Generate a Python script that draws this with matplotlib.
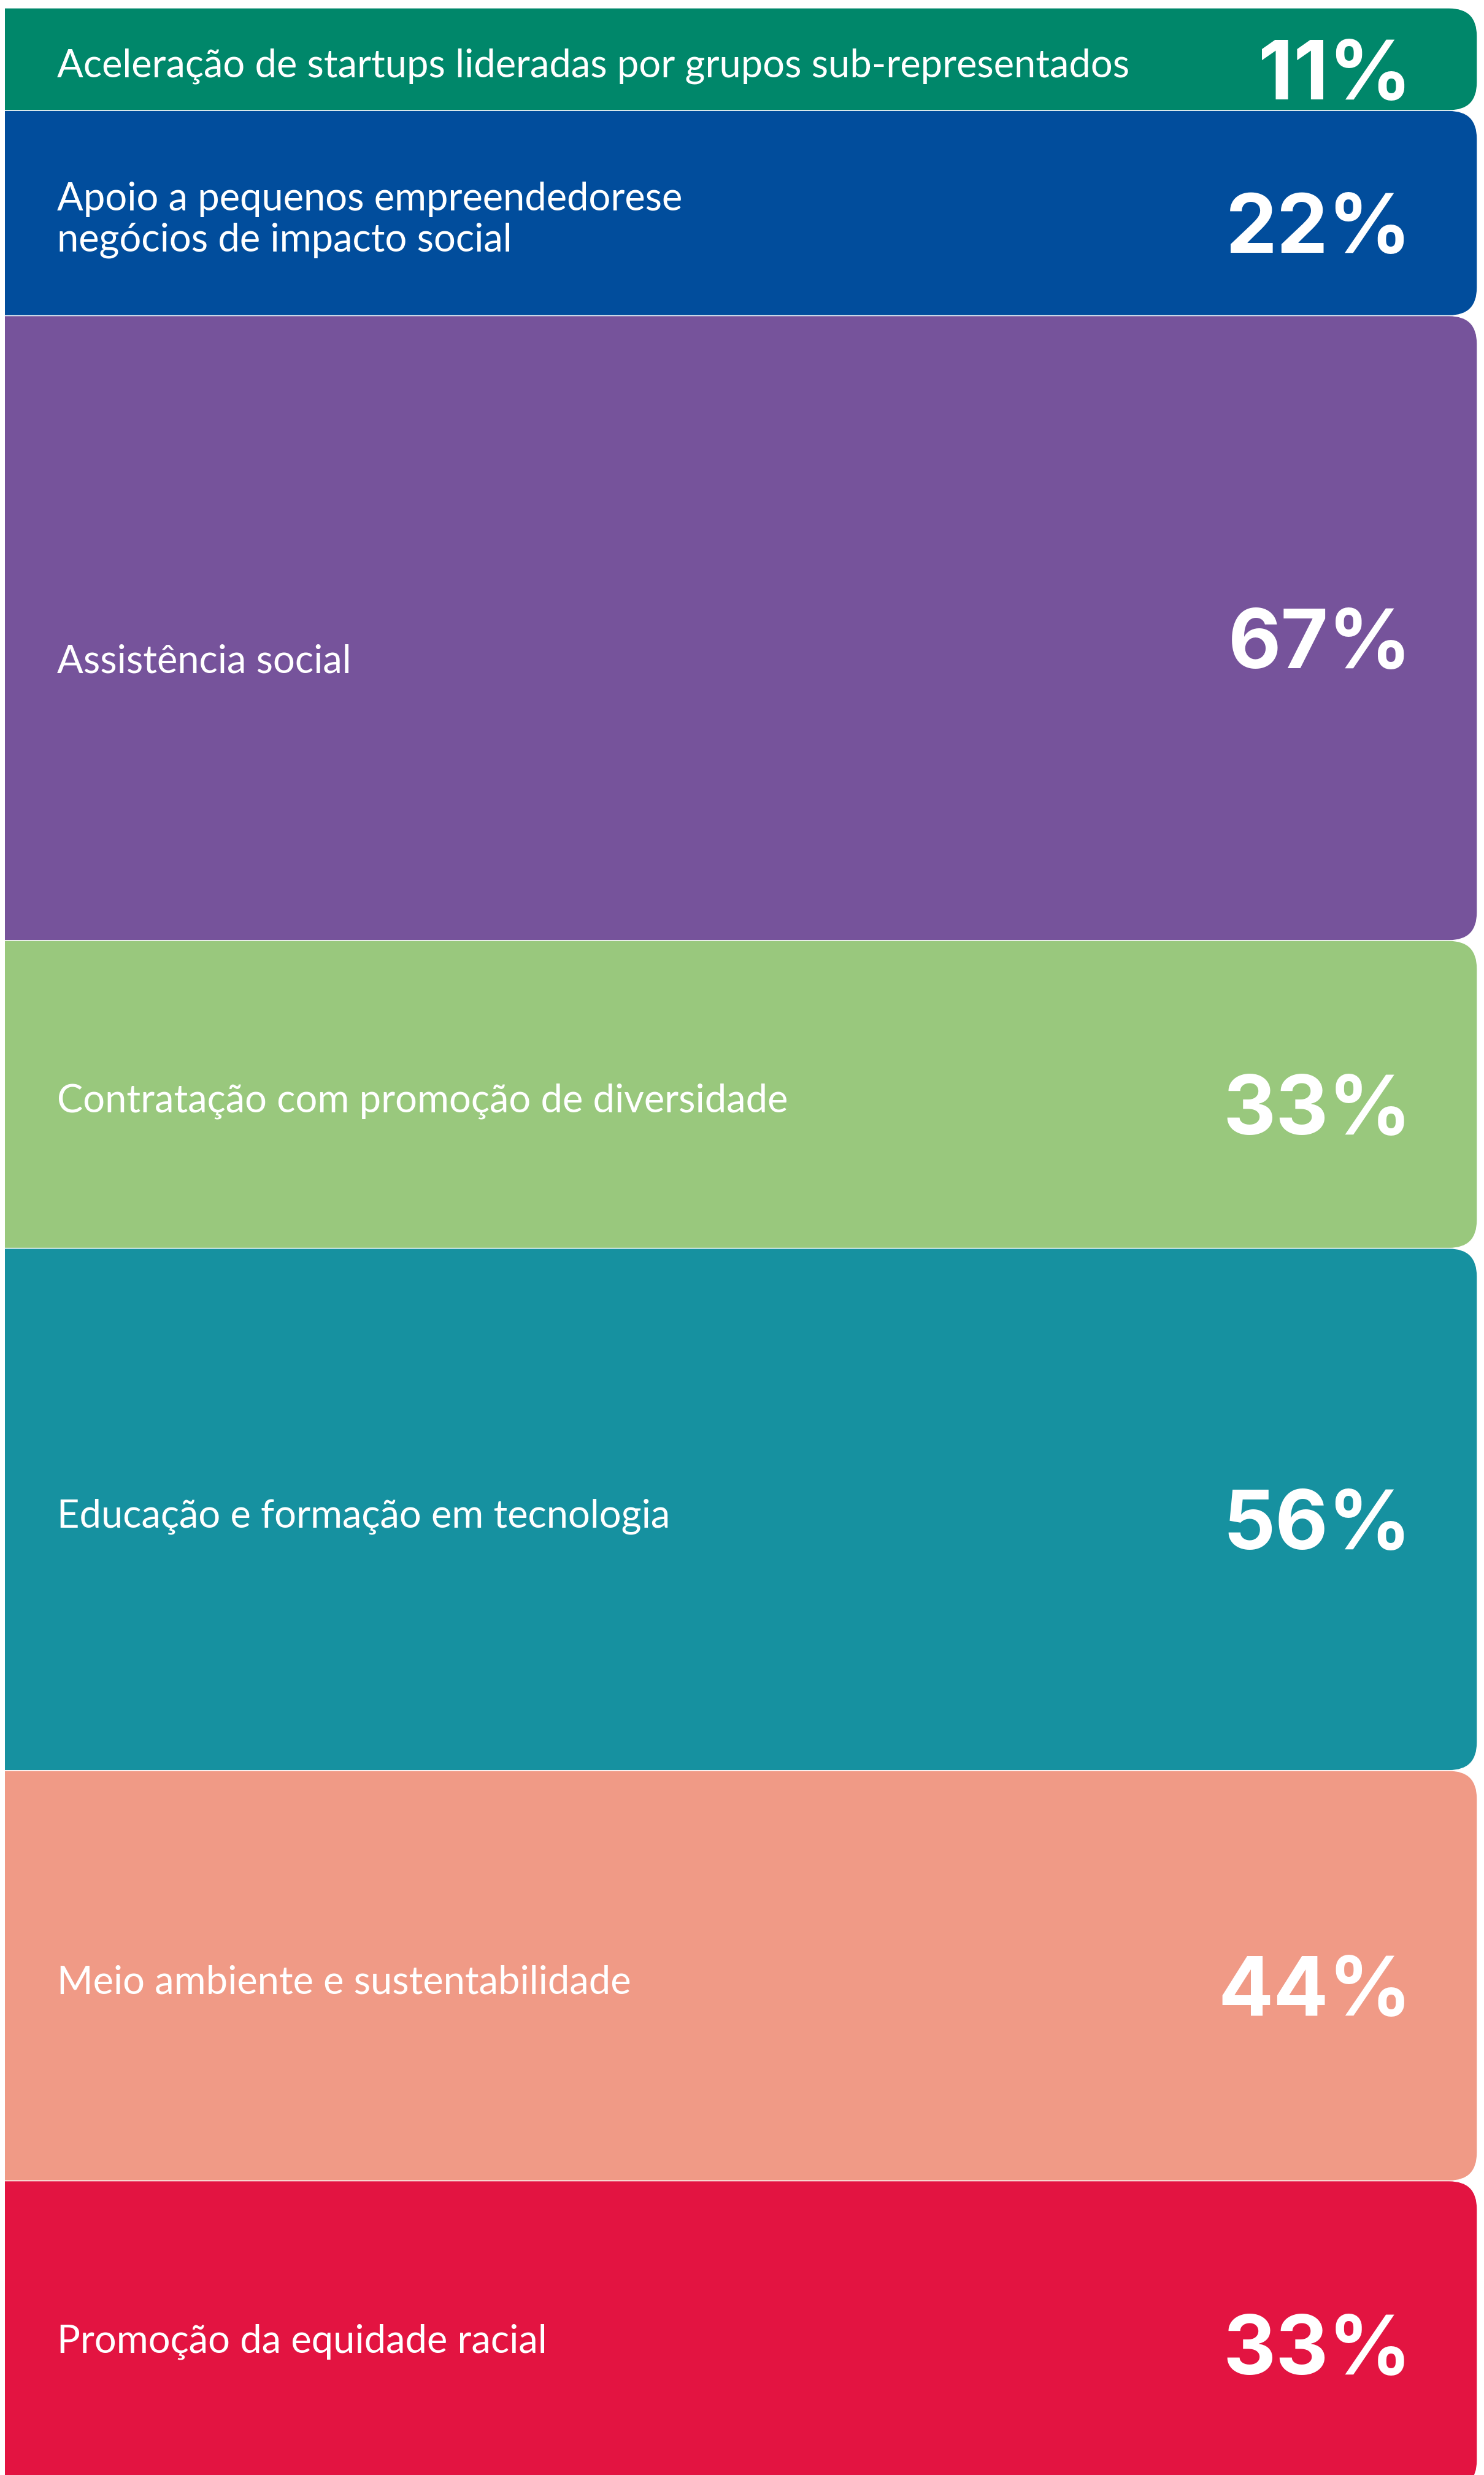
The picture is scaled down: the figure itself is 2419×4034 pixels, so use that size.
import numpy as np
import matplotlib.pyplot as plt
from matplotlib.patches import FancyBboxPatch

# data
categories = [
    'Aceleração de startups lideradas por grupos sub-representados',
    'Apoio a pequenos empreendedorese\nnegócios de impacto social',
    'Assistência social',
    'Contratação com promoção de diversidade',
    'Educação e formação em tecnologia',
    'Meio ambiente e sustentabilidade',
    'Promoção da equidade racial',
]
values = [11, 22, 67, 33, 56, 44, 33]
value_labels = ['11%', '22%', '67%', '33%', '56%', '44%', '33%']
colors = ['#00876A', '#014D9C', '#76539B', '#99C87D', '#1691A0', '#F09A86', '#E31441']

# layout (pixels)
W, H = 2419, 4034
PX_PER_UNIT = 15.2
TOP = 13
LEFT = 8
RIGHT = 2408
LABEL_X = 93
PCT_X = 2301


def px(p):
    return p / PX_PER_UNIT


def main():
    plt.rcParams['font.family'] = ['Lato', 'DejaVu Sans']
    fig = plt.figure(figsize=(W / 100, H / 100), dpi=100)
    ax = fig.add_axes([LEFT / W, 0, 1 - LEFT / W, 1])
    ax.set_xlim(LEFT, W)
    ax.set_ylim(px(H - TOP), px(-TOP))
    ax.axis('off')

    tops = np.concatenate([[0], np.cumsum(values)[:-1]])
    for i, (cat, val, lab, col) in enumerate(zip(categories, values, value_labels, colors)):
        top = tops[i]
        box = FancyBboxPatch((-300, top), RIGHT + 300, val,
                             boxstyle='round,pad=0,rounding_size=46',
                             mutation_aspect=1 / PX_PER_UNIT,
                             fc=col, ec='white', lw=1.0)
        ax.add_patch(box)
        mid = top + val / 2

        # category label, one text per line
        lines = cat.split('\n')
        nudge = 50 if val == max(values) else 6
        first = mid + px(nudge) - px(67) * (len(lines) - 1) / 2
        for k, line in enumerate(lines):
            ax.text(LABEL_X, first + px(67) * k + px(23), line,
                    color='white', fontsize=45.5, ha='left', va='baseline')

        # percentage
        ax.text(PCT_X, mid + px(15) + px(50), lab, color='white',
                family=['Inter', 'Lato', 'DejaVu Sans'],
                fontsize=96, fontweight='bold', ha='right', va='baseline')

    fig.savefig('out.png', dpi=100, facecolor='white')
    plt.close()


if __name__ == '__main__':
    main()
